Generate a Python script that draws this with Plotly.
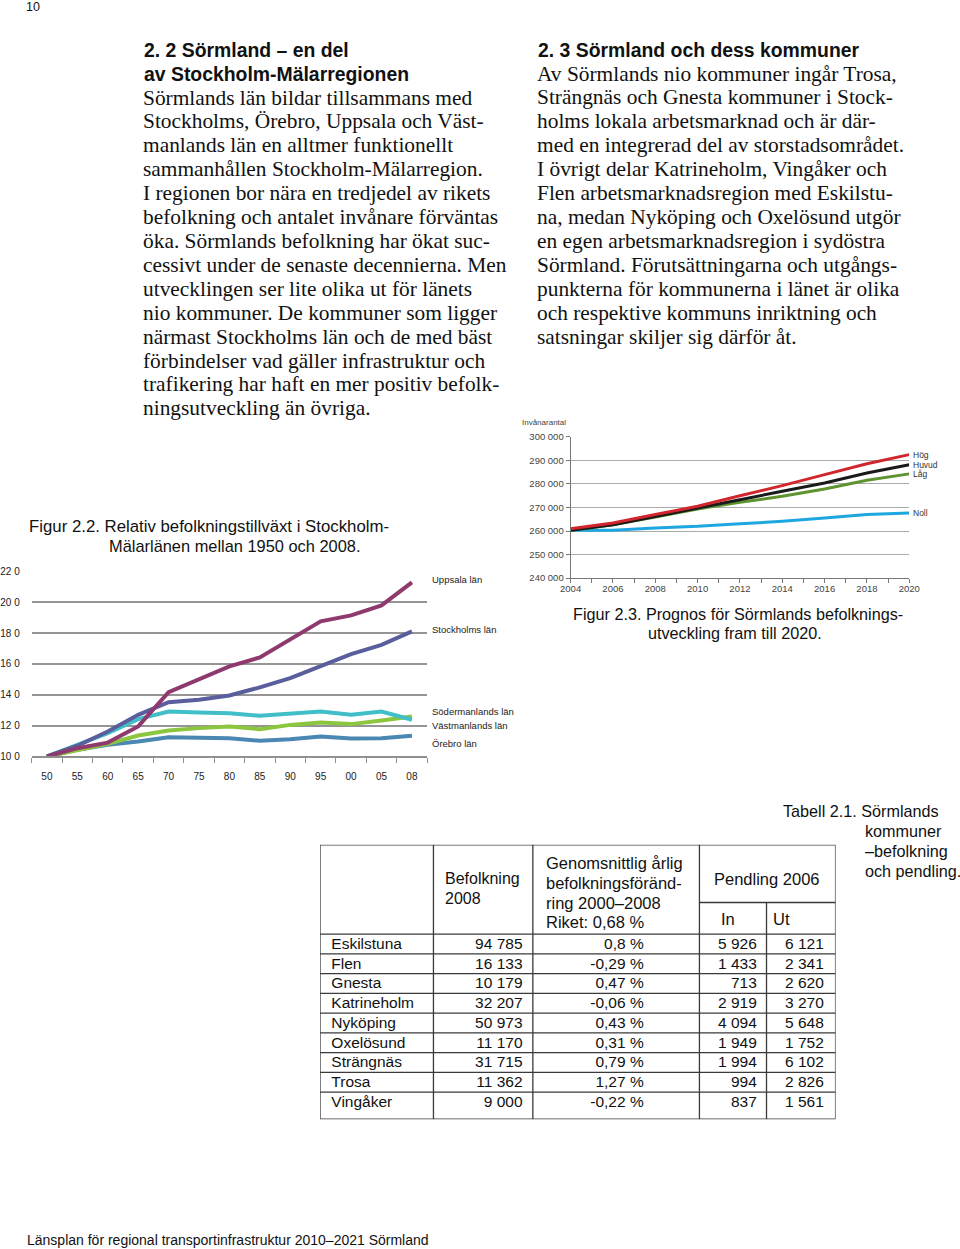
import plotly.graph_objects as go

W, H = 960, 1249
# the photographed page is slightly offset/squeezed; map reference pixels to layout fractions
SX, OX = 0.975, 12.0
SY, OY = 0.99, 6.5
def px(x): return ((x - OX) / SX) / W
def py(y): return 1 - ((y - OY) / SY) / H

# ---------------- data: figure 2.2 ----------------
years1 = ["50", "55", "60", "65", "70", "75", "80", "85", "90", "95", "00", "05", "08"]
uppsala = [100, 105.4, 109, 119.5, 141.7, 149.7, 158.4, 164.2, 175.7, 187.6, 191.5, 198, 212.9]
stockholm = [100, 107, 116.2, 127, 135.2, 136.8, 139.6, 144.8, 150.8, 158.4, 166.4, 172.4, 181.1]
sodermanland = [100, 107.6, 115.1, 124.2, 129.2, 128.5, 128.1, 126.4, 127.7, 129.2, 127, 129.2, 123.8]
vastmanland = [100, 104.3, 108.2, 113.6, 116.9, 118.4, 119.5, 117.7, 120.5, 122, 121, 123.4, 126]
orebro = [100, 104.3, 107.6, 109.7, 112.5, 111.9, 111.9, 110.2, 111.2, 113, 111.7, 111.9, 113.4]
yticks1 = [100, 120, 140, 160, 180, 200, 220]
yticklabels1 = ["10 0", "12 0", "14 0", "16 0", "18 0", "20 0", "22 0"]

# ---------------- data: figure 2.3 ----------------
years2 = [2004, 2006, 2008, 2010, 2012, 2014, 2016, 2018, 2020]
hog = [261000, 263400, 267000, 270500, 275000, 279300, 284000, 288600, 292500]
huvud = [260300, 262700, 266200, 269600, 273300, 276900, 280400, 284700, 288200]
lag = [260300, 262700, 266000, 269400, 272200, 274750, 277900, 281600, 284300]
noll = [260300, 260300, 261300, 262000, 263100, 264100, 265500, 267000, 267700]
yticks2 = [240000, 250000, 260000, 270000, 280000, 290000, 300000]
yticklabels2 = ["240 000", "250 000", "260 000", "270 000", "280 000", "290 000", "300 000"]
xticks2 = list(range(2004, 2021))
xticklabels2 = [str(y) if y % 2 == 0 else "" for y in xticks2]

# ---------------- data: table 2.1 ----------------
kommuner = ["Eskilstuna", "Flen", "Gnesta", "Katrineholm", "Nyköping", "Oxelösund",
            "Strängnäs", "Trosa", "Vingåker"]
befolkning_2008 = [94785, 16133, 10179, 32207, 50973, 11170, 31715, 11362, 9000]
forandring = [0.8, -0.29, 0.47, -0.06, 0.43, 0.31, 0.79, 1.27, -0.22]
pendling_in = [5926, 1433, 713, 2919, 4094, 1949, 1994, 994, 837]
pendling_ut = [6121, 2341, 2620, 3270, 5648, 1752, 6102, 2826, 1561]

def fmt_int(v):
    return f"{v:,}".replace(",", " ")

def fmt_pct(v):
    return f"{v:g}".replace(".", ",") + " %"

SANS = "Liberation Sans, Arial, sans-serif"
SERIF = "Liberation Serif, Times New Roman, serif"

fig = go.Figure()

# Figure 2.2 lines
c1 = {"Örebro län": ("#4a87b2", orebro),
      "Västmanlands län": ("#8cc63f", vastmanland),
      "Södermanlands län": ("#40bfc8", sodermanland),
      "Stockholms län": ("#5a5e9c", stockholm),
      "Uppsala län": ("#8e3a6e", uppsala)}
for name, (col, vals) in c1.items():
    fig.add_trace(go.Scatter(x=years1, y=vals, mode="lines", name=name,
                             line=dict(color=col, width=4), xaxis="x", yaxis="y"))

# Figure 2.3 lines
c2 = {"Noll": ("#1ea6e0", noll), "Låg": ("#5e9430", lag),
      "Huvud": ("#1a1a1a", huvud), "Hög": ("#d2262e", hog)}
for name, (col, vals) in c2.items():
    fig.add_trace(go.Scatter(x=years2, y=vals, mode="lines", name=name,
                             line=dict(color=col, width=3), xaxis="x2", yaxis="y2"))

# Table cells via text traces
rows = list(range(len(kommuner)))
row_y = [r + 0.55 for r in rows]
tfont = dict(family=SANS, size=15.5, color="#111")
col_name_x, col_bef_x, col_pct_x, col_in_x, col_ut_x = 331, 522, 643, 756, 823
fig.add_trace(go.Scatter(x=[col_name_x] * len(rows), y=row_y, text=kommuner, mode="text",
                         textposition="middle right", textfont=tfont, xaxis="x3", yaxis="y3"))
fig.add_trace(go.Scatter(x=[col_bef_x] * len(rows), y=row_y, text=[fmt_int(v) for v in befolkning_2008],
                         mode="text", textposition="middle left", textfont=tfont, xaxis="x3", yaxis="y3"))
fig.add_trace(go.Scatter(x=[col_pct_x] * len(rows), y=row_y, text=[fmt_pct(v) for v in forandring],
                         mode="text", textposition="middle left", textfont=tfont, xaxis="x3", yaxis="y3"))
fig.add_trace(go.Scatter(x=[col_in_x] * len(rows), y=row_y, text=[fmt_int(v) for v in pendling_in],
                         mode="text", textposition="middle left", textfont=tfont, xaxis="x3", yaxis="y3"))
fig.add_trace(go.Scatter(x=[col_ut_x] * len(rows), y=row_y, text=[fmt_int(v) for v in pendling_ut],
                         mode="text", textposition="middle left", textfont=tfont, xaxis="x3", yaxis="y3"))

# Table grid (x3 in page px, y3 in row units)
T_X0, T_X1 = 319.7, 834.7
T_TOP, T_BOT = -4.52, 9.37
col_edges = [433, 532.3, 698.7]
inut_edge = 765.7
shapes = []
lc = dict(color="#3a3a3a", width=1.3)
shapes.append(dict(type="rect", xref="x3", yref="y3", x0=T_X0, x1=T_X1, y0=T_TOP, y1=T_BOT, line=lc))
for e in col_edges:
    shapes.append(dict(type="line", xref="x3", yref="y3", x0=e, x1=e, y0=T_TOP, y1=T_BOT, line=lc))
shapes.append(dict(type="line", xref="x3", yref="y3", x0=inut_edge, x1=inut_edge, y0=-1.6, y1=T_BOT, line=lc))
shapes.append(dict(type="line", xref="x3", yref="y3", x0=698.7, x1=T_X1, y0=-1.6, y1=-1.6, line=lc))
for r in range(len(kommuner)):
    shapes.append(dict(type="line", xref="x3", yref="y3", x0=T_X0, x1=T_X1, y0=r, y1=r, line=lc))

annotations = []
def txt(x, y, s, size, family=SANS, color="#111", xanchor="left", bold=False):
    if bold:
        s = "<b>" + s + "</b>"
    annotations.append(dict(x=px(x), y=py(y), xref="paper", yref="paper", text=s, showarrow=False,
                            xanchor=xanchor, yanchor="middle", font=dict(family=family, size=size, color=color)))

# page number
txt(24, 7, "10", 12.5)

# left column
HF = 19.4
txt(142, 50, "2. 2 Sörmland – en del", HF, bold=True)
txt(142, 74.5, "av Stockholm-Mälarregionen", HF, bold=True)
left_lines = ["Sörmlands län bildar tillsammans med",
              "Stockholms, Örebro, Uppsala och Väst-",
              "manlands län en alltmer funktionellt",
              "sammanhållen Stockholm-Mälarregion.",
              "I regionen bor nära en tredjedel av rikets",
              "befolkning och antalet invånare förväntas",
              "öka. Sörmlands befolkning har ökat suc-",
              "cessivt under de senaste decennierna. Men",
              "utvecklingen ser lite olika ut för länets",
              "nio kommuner. De kommuner som ligger",
              "närmast Stockholms län och de med bäst",
              "förbindelser vad gäller infrastruktur och",
              "trafikering har haft en mer positiv befolk-",
              "ningsutveckling än övriga."]
BF = 21.4
for i, l in enumerate(left_lines):
    txt(141, 98 + 23.9 * i, l, BF, family=SERIF)

# right column
txt(535, 50, "2. 3 Sörmland och dess kommuner", HF, bold=True)
right_lines = ["Av Sörmlands nio kommuner ingår Trosa,",
               "Strängnäs och Gnesta kommuner i Stock-",
               "holms lokala arbetsmarknad och är där-",
               "med en integrerad del av storstadsområdet.",
               "I övrigt delar Katrineholm, Vingåker och",
               "Flen arbetsmarknadsregion med Eskilstu-",
               "na, medan Nyköping och Oxelösund utgör",
               "en egen arbetsmarknadsregion i sydöstra",
               "Sörmland. Förutsättningarna och utgångs-",
               "punkterna för kommunerna i länet är olika",
               "och respektive kommuns inriktning och",
               "satsningar skiljer sig därför åt."]
for i, l in enumerate(right_lines):
    txt(534, 74 + 23.9 * i, l, BF, family=SERIF)

# captions
CF = 16.2
txt(27, 527, "Figur 2.2. Relativ befolkningstillväxt i Stockholm-", 16.8)
txt(107, 546, "Mälarlänen mellan 1950 och 2008.", 16.4)
txt(570, 614, "Figur 2.3. Prognos för Sörmlands befolknings-", CF)
txt(645, 633, "utveckling fram till 2020.", CF)
txt(780, 811, "Tabell 2.1. Sörmlands", CF)
txt(862, 831, "kommuner", CF)
txt(862, 851, "–befolkning", CF)
txt(862, 871, "och pendling.", CF)

# footer
txt(25, 1240, "Länsplan för regional transportinfrastruktur 2010–2021 Sörmland", 14)

# chart 1 series labels
for (s, y) in [("Uppsala län", 579.7), ("Stockholms län", 630), ("Södermanlands län", 711.7),
               ("Västmanlands län", 725.7), ("Örebro län", 743.3)]:
    txt(430, y, s, 9.5, color="#222")

# chart 2 labels
txt(519, 422.5, "Invånarantal", 8, color="#444")
for name, vals in [("Hög", hog), ("Huvud", huvud), ("Låg", lag), ("Noll", noll)]:
    annotations.append(dict(x=years2[-1], y=vals[-1], xref="x2", yref="y2", text=name, showarrow=False,
                            xanchor="left", yanchor="middle", xshift=2,
                            font=dict(family=SANS, size=8.5, color="#333")))

# table header texts
hf = 16.5
txt(443, 879, "Befolkning", 16)
txt(443, 899, "2008", 16)
txt(543, 863, "Genomsnittlig årlig", hf)
txt(543, 883, "befolkningsföränd-", hf)
txt(543, 903, "ring 2000–2008", hf)
txt(543, 922, "Riket: 0,68 %", hf)
txt(711, 879, "Pendling 2006", hf)
txt(718, 919, "In", hf)
txt(770, 919, "Ut", hf)

fig.update_layout(
    width=W, height=H, margin=dict(l=0, r=0, t=0, b=0),
    paper_bgcolor="white", plot_bgcolor="white", showlegend=False,
    shapes=shapes, annotations=annotations,
    xaxis=dict(domain=[px(31.7), px(426.7)], type="category", categoryorder="array",
               categoryarray=years1, range=[-0.5, 12.5], showgrid=False, zeroline=False,
               showline=True, linecolor="#909090", linewidth=1.5, ticks="outside",
               tickson="boundaries", ticklen=5, tickcolor="#909090", ticklabelstandoff=10,
               tickfont=dict(family=SANS, size=10, color="#222"), fixedrange=True),
    yaxis=dict(domain=[py(756.7), py(571.7)], range=[100, 220], tickvals=yticks1,
               ticktext=yticklabels1, showgrid=True, gridcolor="#959595", gridwidth=1.5,
               zeroline=False, showline=False, ticks="", ticklabelstandoff=11,
               tickfont=dict(family=SANS, size=10, color="#222"), fixedrange=True),
    xaxis2=dict(domain=[px(570), px(908.3)], range=[2004, 2020], tickvals=xticks2,
                ticktext=xticklabels2, showgrid=False, zeroline=False, showline=True,
                linecolor="#777", linewidth=1, ticks="outside", ticklen=4, tickcolor="#777",
                ticklabelstandoff=-2,
                tickfont=dict(family=SANS, size=9.5, color="#444"), anchor="y2", fixedrange=True),
    yaxis2=dict(domain=[py(578.3), py(437.3)], range=[240000, 300000], tickvals=yticks2,
                ticktext=yticklabels2, showgrid=True, gridcolor="#aaaaaa", gridwidth=1,
                zeroline=False, showline=True, linecolor="#777", linewidth=1, ticks="outside",
                ticklen=4, tickcolor="#777", tickfont=dict(family=SANS, size=9.5, color="#444"),
                anchor="x2", fixedrange=True),
    xaxis3=dict(domain=[px(T_X0), px(T_X1)], range=[T_X0, T_X1], visible=False, anchor="y3",
                fixedrange=True),
    yaxis3=dict(domain=[py(1119.3), py(845)], range=[T_BOT, T_TOP], visible=False, anchor="x3",
                fixedrange=True),
)

fig.write_html("out.html", config={"displayModeBar": False},
               post_script="document.body.style.margin='0';")
